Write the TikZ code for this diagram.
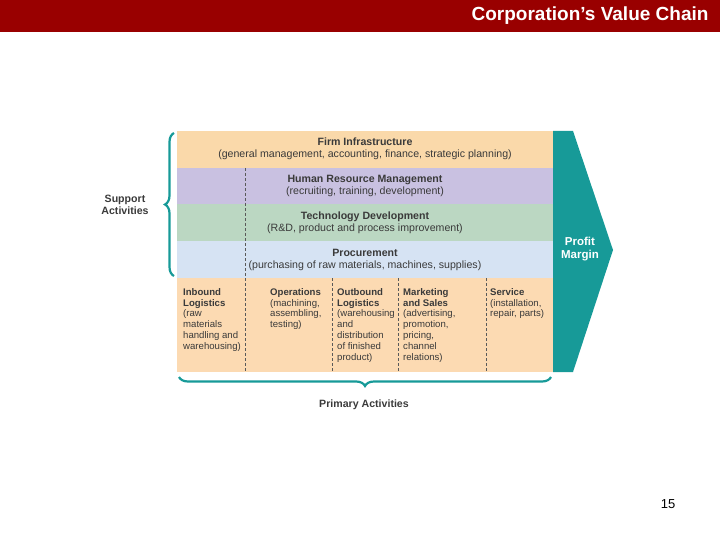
\documentclass[tikz,border=0pt]{standalone}
\usepackage{fontspec}
\setmainfont{Liberation Sans}
\usetikzlibrary{decorations.pathreplacing}
\definecolor{hdr}{HTML}{990000}
\definecolor{teal1}{HTML}{179A98}
\definecolor{cFI}{HTML}{FAD9AA}
\definecolor{cHR}{HTML}{C9C1E1}
\definecolor{cTD}{HTML}{BBD7C2}
\definecolor{cPR}{HTML}{D6E3F3}
\definecolor{cPA}{HTML}{FCDAB2}
\definecolor{txt}{HTML}{3A3A3A}
\tikzset{
  bt/.style={align=center,font=\fontsize{10.6}{12.2}\selectfont,text=txt,inner sep=0},
  pt/.style={align=left,anchor=north west,font=\fontsize{9.6}{10.9}\selectfont,text=txt,inner sep=0},
  sep/.style={densely dashed,draw=gray!70!black,line width=0.6pt},
  brace/.style={draw=teal1,line width=2.2pt,decorate,decoration={brace,amplitude=9pt}}
}
\begin{document}
\begin{tikzpicture}[x=1pt,y=-1pt]
\useasboundingbox (0,0) rectangle (720,540);
\fill[hdr] (0,0) rectangle (720,32);
\node[anchor=east,text=white,font=\bfseries\fontsize{19}{21}\selectfont] (title) at (712,16) {Corporation’s Value Chain};
\fill[cFI] (177,131) rectangle (553,168);
\fill[cHR] (177,168) rectangle (553,204);
\fill[cTD] (177,204) rectangle (553,241);
\fill[cPR] (177,241) rectangle (553,278);
\fill[cPA] (177,278) rectangle (553,372);
\fill[teal1] (553,131) -- (573,131) -- (613,250) -- (573,372) -- (553,372) -- cycle;
\node[text=white,font=\bfseries\fontsize{11.5}{13}\selectfont,align=center] (pm) at (580,249) {Profit\\Margin};
\draw[sep] (245,168) -- (245,372);
\draw[sep] (332,278) -- (332,372);
\draw[sep] (398,278) -- (398,372);
\draw[sep] (486,278) -- (486,372);
\node[bt] (fi) at (365,149) {\textbf{Firm Infrastructure}\\(general management, accounting, finance, strategic planning)};
\node[bt] (hr) at (365,186) {\textbf{Human Resource Management}\\(recruiting, training, development)};
\node[bt] (td) at (365,223) {\textbf{Technology Development}\\(R\&D, product and process improvement)};
\node[bt] (pr) at (365,260) {\textbf{Procurement}\\(purchasing of raw materials, machines, supplies)};
\node[pt] (p1) at (183,288) {\textbf{Inbound}\\\textbf{Logistics}\\(raw\\materials\\handling and\\warehousing)};
\node[pt] (p2) at (270,288) {\textbf{Operations}\\(machining,\\assembling,\\testing)};
\node[pt] (p3) at (337,288) {\textbf{Outbound}\\\textbf{Logistics}\\(warehousing\\and\\distribution\\of finished\\product)};
\node[pt] (p4) at (403,288) {\textbf{Marketing}\\\textbf{and Sales}\\(advertising,\\promotion,\\pricing,\\channel\\relations)};
\node[pt] (p5) at (490,288) {\textbf{Service}\\(installation,\\repair, parts)};
\draw[brace] (174,276) -- (174,133);
\node[font=\bfseries\fontsize{10.6}{11.5}\selectfont,text=txt,align=center] (sa) at (125,205) {Support\\Activities};
\draw[brace] (551,377) -- (179,377);
\node[font=\bfseries\fontsize{10.6}{12}\selectfont,text=txt] (pa) at (364,405) {Primary Activities};
\node[font=\fontsize{13}{15}\selectfont] (pg) at (668,504) {15};
\end{tikzpicture}
\end{document}
